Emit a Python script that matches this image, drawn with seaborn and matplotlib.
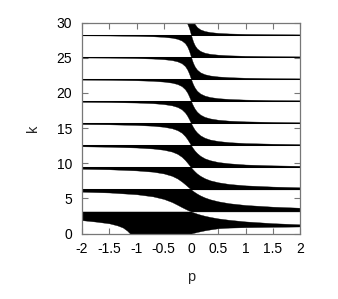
import numpy as np
import pandas as pd
import matplotlib
matplotlib.use("Agg")
import matplotlib.pyplot as plt
import seaborn as sns

# ---- data ----
x_ticks = [-2, -1.5, -1, -0.5, 0, 0.5, 1, 1.5, 2]
x_tick_labels = ["-2", "-1.5", "-1", "-0.5", "0", "0.5", "1", "1.5", "2"]
y_ticks = [0, 5, 10, 15, 20, 25, 30]

# flat band edges (k values of the horizontal lines)
band_lines = [3.14, 6.28, 9.42, 12.57, 15.71, 18.85, 21.99, 25.13, 28.27, 31.42]

# left half (p < 0): lower edge of band m, upper edge = band_lines[m-1]
p_left = [-2, -1.5, -1, -0.7, -0.5, -0.35, -0.25, -0.17, -0.11, -0.07, -0.04, -0.02, 0]
lower_left = {
    2: [5.95, 5.84, 5.59, 5.29, 4.92, 4.48, 4.09, 3.76, 3.53, 3.38, 3.27, 3.21, 3.14],
    3: [9.21, 9.14, 8.98, 8.80, 8.55, 8.21, 7.83, 7.40, 7.02, 6.75, 6.54, 6.41, 6.28],
    4: [12.41, 12.35, 12.24, 12.10, 11.92, 11.66, 11.34, 10.92, 10.47, 10.10, 9.81, 9.61, 9.42],
    5: [15.58, 15.54, 15.45, 15.34, 15.19, 14.98, 14.71, 14.34, 13.87, 13.45, 13.08, 12.82, 12.57],
    6: [18.74, 18.71, 18.64, 18.55, 18.42, 18.24, 18.01, 17.67, 17.22, 16.77, 16.34, 16.03, 15.71],
    7: [21.90, 21.87, 21.81, 21.73, 21.62, 21.47, 21.27, 20.97, 20.54, 20.08, 19.60, 19.23, 18.85],
    8: [25.05, 25.03, 24.97, 24.90, 24.81, 24.68, 24.50, 24.23, 23.83, 23.36, 22.85, 22.43, 21.99],
    9: [28.20, 28.18, 28.13, 28.07, 27.99, 27.87, 27.71, 27.46, 27.09, 26.63, 26.09, 25.63, 25.13],
    10: [31.35, 31.33, 31.29, 31.23, 31.16, 31.05, 30.91, 30.68, 30.33, 29.89, 29.33, 28.83, 28.27],
}
# lowest band on the left
p_left_b1 = [-2, -1.75, -1.5, -1.35, -1.25, -1.17, -1.12, -1.0, -0.5]
lower_left_b1 = [1.9, 1.7, 1.45, 1.15, 0.85, 0.4, 0.0, 0.0, 0.0]

# right half (p > 0): upper edge of band m, lower edge = band_lines[m-2] (0 for m=1)
p_right = [0, 0.02, 0.04, 0.07, 0.11, 0.17, 0.25, 0.35, 0.5, 0.7, 1, 1.5, 2]
upper_right = {
    1: [3.14, 3.08, 3.02, 2.94, 2.83, 2.69, 2.53, 2.36, 2.15, 1.95, 1.72, 1.47, 1.31],
    2: [6.28, 6.16, 6.04, 5.88, 5.68, 5.42, 5.14, 4.87, 4.58, 4.31, 4.06, 3.82, 3.67],
    3: [9.42, 9.24, 9.07, 8.83, 8.54, 8.21, 7.87, 7.57, 7.29, 7.05, 6.85, 6.68, 6.58],
    4: [12.57, 12.32, 12.09, 11.78, 11.45, 11.06, 10.70, 10.43, 10.17, 9.99, 9.82, 9.70, 9.63],
    5: [15.71, 15.40, 15.12, 14.75, 14.38, 13.97, 13.63, 13.37, 13.16, 13.00, 12.87, 12.78, 12.72],
    6: [18.85, 18.48, 18.16, 17.74, 17.33, 16.92, 16.60, 16.38, 16.19, 16.06, 15.96, 15.88, 15.83],
    7: [21.99, 21.56, 21.19, 20.74, 20.31, 19.92, 19.63, 19.42, 19.26, 19.15, 19.06, 18.99, 18.96],
    8: [25.13, 24.65, 24.23, 23.75, 23.32, 22.94, 22.67, 22.49, 22.35, 22.25, 22.17, 22.11, 22.08],
    9: [28.27, 27.74, 27.28, 26.77, 26.34, 25.98, 25.73, 25.57, 25.45, 25.36, 25.29, 25.24, 25.21],
    10: [31.42, 30.82, 30.33, 29.80, 29.38, 29.05, 28.82, 28.67, 28.55, 28.47, 28.41, 28.37, 28.34],
}
# lowest band on the right: its lower edge lifts off k = 0
lower_right_b1 = [0, 0.04, 0.08, 0.14, 0.22, 0.32, 0.45, 0.58, 0.75, 0.84, 0.9, 0.95, 1.0]

# ---- drawing ----
sns.set_theme(style="ticks")
plt.rcParams["font.family"] = ["Liberation Sans", "DejaVu Sans"]

fig = plt.figure(figsize=(3.38, 2.99), dpi=100)
ax = fig.add_axes([0.2426, 0.219, 0.645, 0.705])

fill_kw = dict(color="black", linewidth=0.25, edgecolor="black")

# one polygon per band: left half (upper edge flat) joined to right half (lower edge flat)
for m in range(1, 11):
    top = band_lines[m - 1]
    if m == 1:
        p_l = p_left_b1
        lo_l = lower_left_b1
        lo_r = lower_right_b1
    else:
        p_l = p_left
        lo_l = lower_left[m]
        lo_r = [band_lines[m - 2]] * len(p_right)
    p_all = list(p_l) + list(p_right)
    lower_all = list(lo_l) + list(lo_r)
    upper_all = [top] * len(p_l) + list(upper_right[m])
    ax.fill_between(p_all, lower_all, upper_all, **fill_kw)

# horizontal band-edge lines
lines_df = pd.DataFrame({
    "p": [-2, 2] * len(band_lines[1:9]),
    "k": [v for v in band_lines[1:9] for _ in range(2)],
    "line": [i for i in range(8) for _ in range(2)],
})
sns.lineplot(data=lines_df, x="p", y="k", units="line", estimator=None,
             color="black", linewidth=0.75, ax=ax, legend=False)

ax.set_xlim(-2, 2)
ax.set_ylim(0, 30)
ax.set_xticks(x_ticks)
ax.set_xticklabels(x_tick_labels)
ax.set_yticks(y_ticks)
ax.set_xlabel("p", fontsize=10.5, labelpad=10)
ax.set_ylabel("k", fontsize=10.5, labelpad=12)

ax.tick_params(direction="in", length=4.5, width=0.8, colors="#777777",
               labelcolor="black", labelsize=10, top=True, right=True)
ax.tick_params(axis="x", pad=6)
ax.tick_params(axis="y", pad=7)
for s in ax.spines.values():
    s.set_color("#777777")
    s.set_linewidth(0.9)

fig.savefig("out.png", dpi=100)
